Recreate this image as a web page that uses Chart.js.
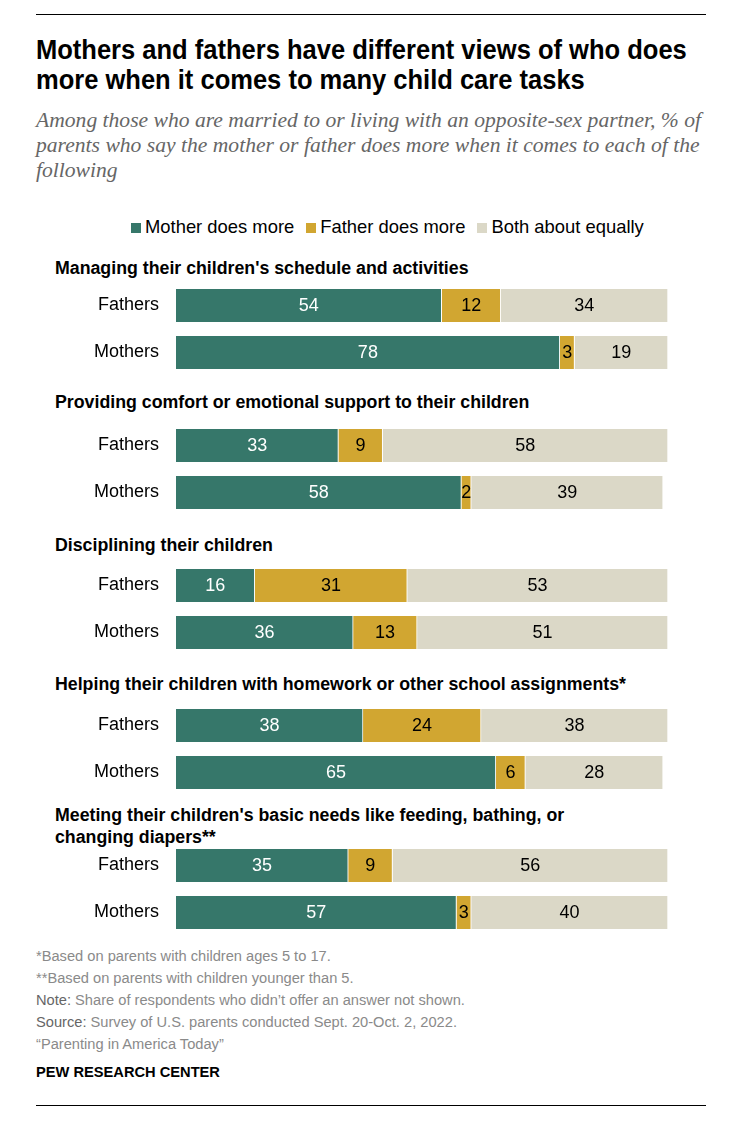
<!DOCTYPE html>
<html>
<head>
<meta charset="utf-8">
<script src="https://cdn.jsdelivr.net/npm/chart.js@4.4.1/dist/chart.umd.min.js"></script>
<style>
  html, body { margin: 0; padding: 0; background: #fff; }
  body { width: 730px; height: 1126px; position: relative; overflow: hidden;
         font-family: "Liberation Sans", Arial, sans-serif; }
  .abs { position: absolute; white-space: nowrap; }
  .narrow { transform: scaleX(0.945); transform-origin: 0 0; }
  .rule { position: absolute; left: 36px; width: 670px; height: 0; border-top: 1.5px solid #000; }
  #title { left: 36px; top: 35px; font-size: 27px; line-height: 30px; font-weight: bold; color: #000; }
  #subtitle { left: 36px; top: 108px; font-family: "Liberation Serif", serif; font-style: italic;
              font-size: 21.6px; line-height: 25px; color: #666; }
  #legend { left: 131px; top: 216px; font-size: 18.4px; line-height: 22px; color: #000; }
  #legend span.item { display: inline-block; margin-right: 12px; }
  #legend span.sw { display: inline-block; width: 10px; height: 10px; margin-right: 4px; vertical-align: 0px; }
  .gtitle { left: 55px; font-size: 18.8px; line-height: 22px; font-weight: bold; color: #000; }
  .box { position: absolute; left: 36px; width: 640px; height: 94px; }
  #notes { left: 36px; top: 945px; font-size: 15.5px; line-height: 22px; color: #8a8a8a; }
  #notes b { font-weight: normal; color: #666; }
  #pew { left: 36px; top: 1062px; font-size: 15.5px; line-height: 20px; font-weight: bold; color: #000; }
</style>
</head>
<body>
<div class="rule" style="top:14px"></div>
<div id="title" class="abs narrow">Mothers and fathers have different views of who does<br>more when it comes to many child care tasks</div>
<div id="subtitle" class="abs">Among those who are married to or living with an opposite-sex partner, % of<br>parents who say the mother or father does more when it comes to each of the<br>following</div>
<div id="legend" class="abs"></div>
<div id="groups"></div>
<div id="notes" class="abs narrow">*Based on parents with children ages 5 to 17.<br>**Based on parents with children younger than 5.<br><b>Note:</b> Share of respondents who didn’t offer an answer not shown.<br><b>Source:</b> Survey of U.S. parents conducted Sept. 20-Oct. 2, 2022.<br>“Parenting in America Today”</div>
<div id="pew" class="abs narrow">PEW RESEARCH CENTER</div>
<div class="rule" style="top:1105px"></div>

<script>
// Chart data
const tasks = [
    ["Managing their children's schedule and activities"],
    ["Providing comfort or emotional support to their children"],
    ["Disciplining their children"],
    ["Helping their children with homework or other school assignments*"],
    ["Meeting their children's basic needs like feeding, bathing, or", "changing diapers**"]
];
const respondents = ["Fathers", "Mothers"];
const seriesNames = ["Mother does more", "Father does more", "Both about equally"];
// values per task: [Fathers, Mothers]
const motherMore = [[54, 78], [33, 58], [16, 36], [38, 65], [35, 57]];
const fatherMore = [[12, 3], [9, 2], [31, 13], [24, 6], [9, 3]];
const bothEqual  = [[34, 19], [58, 39], [53, 51], [38, 28], [56, 40]];

const colors = ["#36776a", "#d1a631", "#dbd8c7"];
const labelColors = ["#ffffff", "#000000", "#000000"];

// layout of each group block on the page
const titleTops = [257, 391, 534, 673, 804];
const boxTops = [281.5, 421.5, 561.5, 701.5, 841.5];

// legend
const legend = document.getElementById('legend');
seriesNames.forEach((name, i) => {
    const item = document.createElement('span');
    item.className = 'item';
    item.innerHTML = `<span class="sw" style="background:${colors[i]}"></span>${name}`;
    legend.appendChild(item);
});

// draws the value in the middle of every bar segment
const valueLabels = {
    id: 'valueLabels',
    afterDatasetsDraw(chart) {
        const ctx = chart.ctx;
        ctx.save();
        ctx.font = '18px "Liberation Sans", Arial, sans-serif';
        ctx.textAlign = 'center';
        ctx.textBaseline = 'middle';
        chart.data.datasets.forEach((ds, di) => {
            const meta = chart.getDatasetMeta(di);
            meta.data.forEach((bar, i) => {
                const v = ds.data[i];
                if (!v) return;
                ctx.fillStyle = labelColors[di];
                ctx.fillText(String(v), (bar.x + bar.base) / 2, bar.y + 1);
            });
        });
        ctx.restore();
    }
};

const groups = document.getElementById('groups');
tasks.forEach((task, t) => {
    const title = document.createElement('div');
    title.className = 'abs gtitle narrow';
    title.style.top = titleTops[t] + 'px';
    title.innerHTML = task.join('<br>');
    groups.appendChild(title);

    const box = document.createElement('div');
    box.className = 'box';
    box.style.top = boxTops[t] + 'px';
    const canvas = document.createElement('canvas');
    canvas.width = 640;
    canvas.height = 94;
    box.appendChild(canvas);
    groups.appendChild(box);

    const seriesData = [motherMore[t], fatherMore[t], bothEqual[t]];
    new Chart(canvas.getContext('2d'), {
        type: 'bar',
        data: {
            labels: respondents,
            datasets: seriesNames.map((name, i) => ({
                label: name,
                data: seriesData[i],
                backgroundColor: colors[i],
                borderColor: '#ffffff',
                borderWidth: { top: 0, bottom: 0, left: 0, right: 1 },
                borderSkipped: false,
                barThickness: 33
            }))
        },
        options: {
            indexAxis: 'y',
            responsive: false,
            animation: false,
            layout: { padding: { left: 0, right: 8, top: 0, bottom: 0 } },
            plugins: { legend: { display: false }, tooltip: { enabled: false } },
            scales: {
                x: { stacked: true, min: 0, max: 100, display: false },
                y: {
                    stacked: true,
                    grid: { display: false },
                    border: { display: false },
                    ticks: {
                        padding: 9,
                        color: '#000',
                        font: { family: '"Liberation Sans", Arial, sans-serif', size: 18 }
                    },
                    afterFit(scale) {
                        // fixed label column, and no extra room above/below the bars
                        scale.width = 140;
                        scale.paddingTop = 0;
                        scale.paddingBottom = 0;
                    }
                }
            }
        },
        plugins: [valueLabels]
    });
});
</script>
</body>
</html>
